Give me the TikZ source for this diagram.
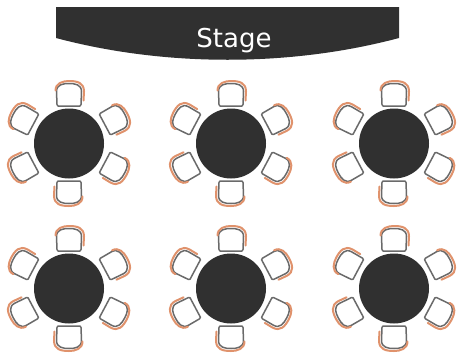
\documentclass[tikz,border=0pt]{standalone}
\usepackage{fontspec}
\setmainfont{DejaVu Sans}
\definecolor{darkfill}{HTML}{303030}
\definecolor{chairline}{HTML}{6A6A6A}
\definecolor{backline}{HTML}{E0926C}
\tikzset{
  x=1pt,y=-1pt,
  tablefill/.style={fill=darkfill,draw=none},
  seatline/.style={draw=chairline,line width=1.5pt,fill=white,line join=round},
  backrest/.style={draw=backline,line width=2pt,line cap=round},
  chairpic/.pic={
    \draw[seatline] (-11,-37.5) -- (11,-37.5) .. controls (12,-37.5) and (12,-38.5) .. (12,-39) -- (12.5,-52) .. controls (12.5,-59) and (6,-60) .. (0,-60) .. controls (-6,-60) and (-12.5,-59) .. (-12.5,-52) -- (-12,-39) .. controls (-12,-38.5) and (-12,-37.5) .. (-11,-37.5) -- cycle;
    \draw[backrest] (-13.5,-53) .. controls (-13.5,-60.5) and (-6,-62.5) .. (0,-62.5) .. controls (8,-62.5) and (15,-61) .. (15,-52) -- (14.5,-43);
  },
  roundtable/.pic={
    \foreach \a in {0,180}{\pic[rotate=\a] {chairpic};}
    \foreach \a in {62,118,242,298}{\pic[rotate=\a,yshift=3pt] {chairpic};}
    \fill[tablefill] (0,0) circle (35);
  }
}
\begin{document}
\begin{tikzpicture}
\useasboundingbox (0,0) rectangle (457,354);
\fill[white] (0,0) rectangle (457,354);
\fill[darkfill] (56,7) -- (399,7) -- (399,38) .. controls (290,67) and (165,67) .. (56,38) -- cycle;
\node[text=white,font=\fontsize{26}{26}\selectfont,inner sep=0pt] (stage) at (234,41) {Stage};
\pic at (69,143.5) {roundtable};
\pic at (231,143.5) {roundtable};
\pic at (394,143.5) {roundtable};
\pic at (69,288.5) {roundtable};
\pic at (231,288.5) {roundtable};
\pic at (394,288.5) {roundtable};
\end{tikzpicture}
\end{document}
